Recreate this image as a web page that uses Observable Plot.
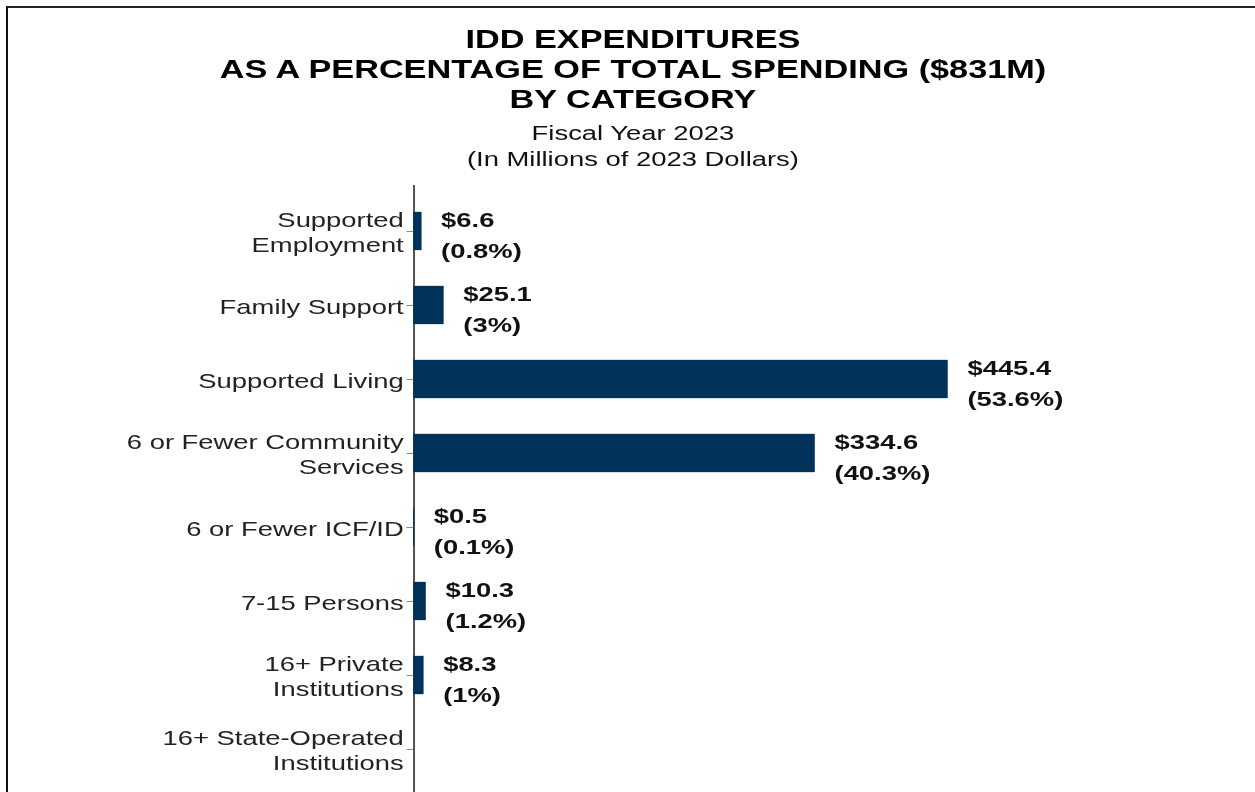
<!DOCTYPE html>
<html>
<head>
<meta charset="utf-8">
<script src="https://cdn.jsdelivr.net/npm/d3@7"></script>
<script src="https://cdn.jsdelivr.net/npm/@observablehq/plot@0.6"></script>
<style>
  html, body { margin: 0; padding: 0; background: #fff; overflow: hidden; width: 1255px; height: 792px; }
  #frame { position: absolute; left: 6px; top: 6px; width: 1400px; height: 1000px;
           border-left: 2px solid #111; border-top: 2px solid #222; }
  #wrap { position: absolute; left: 0; top: 0; width: 916px; transform: scaleX(1.37); transform-origin: 0 0;
          font-family: "Liberation Sans", Arial, sans-serif; color: #000; }
  #title { position: absolute; top: 23.5px; left: 4px; width: 916px; text-align: center;
           font-weight: bold; font-size: 25px; line-height: 30px; }
  #subtitle { position: absolute; top: 119.5px; left: 4px; width: 916px; text-align: center;
              font-size: 20px; line-height: 26px; color: #111; }
  #chart { position: absolute; top: 185px; left: 0; }
  #chart svg { overflow: visible; }
</style>
</head>
<body>
<div id="frame"></div>
<div id="wrap">
  <div id="title">IDD EXPENDITURES<br>AS A PERCENTAGE OF TOTAL SPENDING ($831M)<br>BY CATEGORY</div>
  <div id="subtitle">Fiscal Year 2023<br>(In Millions of 2023 Dollars)</div>
  <div id="chart"></div>
</div>
<script>
const categories = [
  "Supported Employment",
  "Family Support",
  "Supported Living",
  "6 or Fewer Community Services",
  "6 or Fewer ICF/ID",
  "7-15 Persons",
  "16+ Private Institutions",
  "16+ State-Operated Institutions"
];
const tickLabels = [
  "Supported\nEmployment",
  "Family Support",
  "Supported Living",
  "6 or Fewer Community\nServices",
  "6 or Fewer ICF/ID",
  "7-15 Persons",
  "16+ Private\nInstitutions",
  "16+ State-Operated\nInstitutions"
];
const amounts = [6.6, 25.1, 445.4, 334.6, 0.5, 10.3, 8.3, null];
const percents = ["0.8%", "3%", "53.6%", "40.3%", "0.1%", "1.2%", "1%", null];

const rows = categories.map((c, i) => ({category: c, amount: amounts[i], pct: percents[i]}))
  .filter(d => d.amount != null);

const chart = Plot.plot({
  width: 916,
  height: 612,
  marginLeft: 301.7,
  marginRight: 89,
  marginTop: 0,
  marginBottom: 0,
  style: {fontFamily: "Liberation Sans, Arial, sans-serif", background: "transparent", overflow: "visible"},
  x: {domain: [0, 600], axis: null},
  y: {domain: categories, range: [8, 602], paddingInner: 0.49, paddingOuter: 0.245, axis: null},
  marks: [
    Plot.ruleX([0], {stroke: "#555", strokeWidth: 1.5}),
    Plot.barX(rows, {x: "amount", y: "category", fill: "#00325a", stroke: "#00325a", strokeWidth: 0.3}),
    Plot.axisY({
      tickFormat: d => tickLabels[categories.indexOf(d)],
      fontSize: 20, lineHeight: 1.25, tickSize: 5, tickPadding: 2.5,
      stroke: "#888", fill: "#222", label: null
    }),
    Plot.text(rows, {
      x: "amount", y: "category",
      text: d => `$${d.amount}\n(${d.pct})`,
      dx: 14, dy: 1, textAnchor: "start",
      fontSize: 20, fontWeight: "bold", lineHeight: 1.55, fill: "#111"
    })
  ]
});
document.getElementById("chart").appendChild(chart);
</script>
</body>
</html>
